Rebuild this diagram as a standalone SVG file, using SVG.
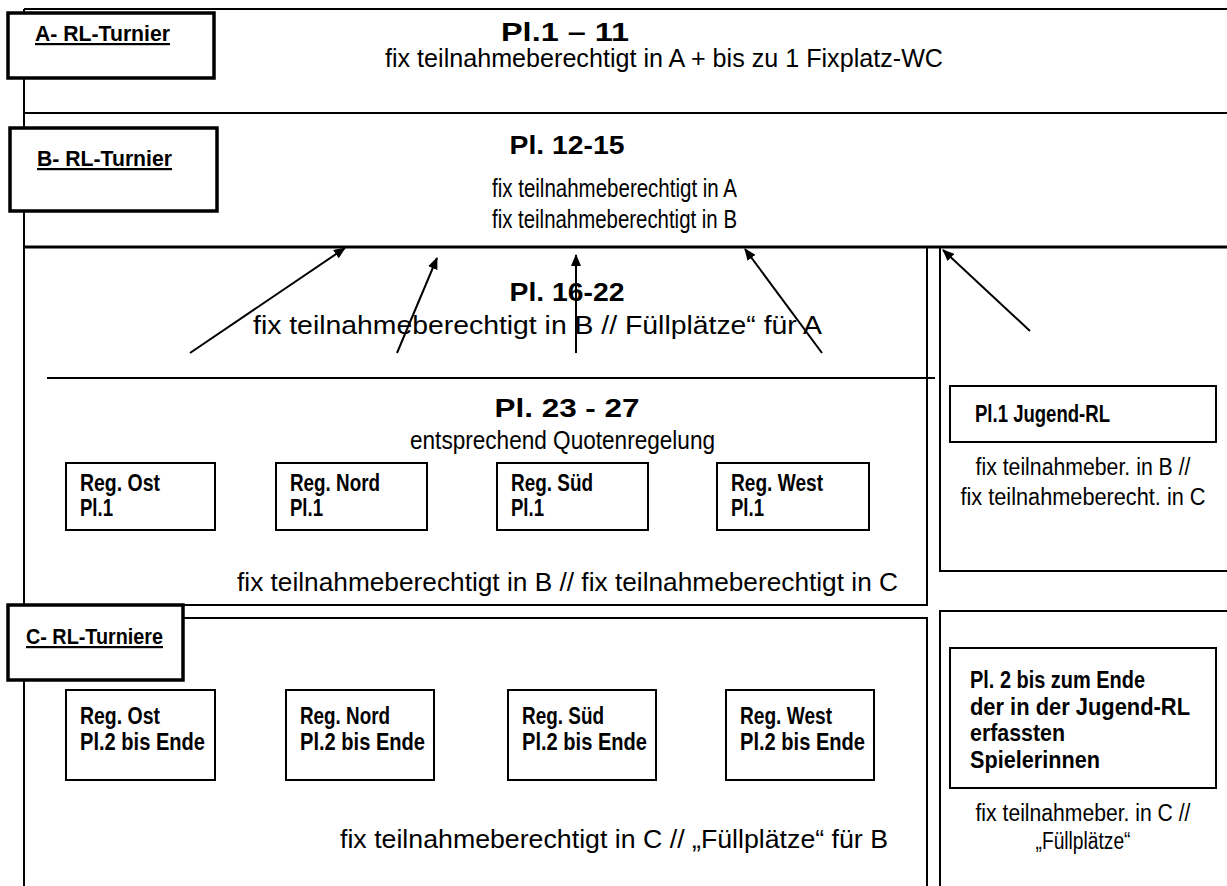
<svg xmlns="http://www.w3.org/2000/svg" width="1227" height="886" viewBox="0 0 1227 886">
<defs>
<style>
.ln{stroke:#000;stroke-width:2;fill:none}
.thk{stroke:#000;stroke-width:3;fill:none}
.lbl{fill:#fff;stroke:#000;stroke-width:3.5}
.box{fill:#fff;stroke:#000;stroke-width:2}
text{font-family:"Liberation Sans",Arial,sans-serif;fill:#000}
.t{font-size:25px}
.s{font-size:23px}
.b{font-size:23px;font-weight:bold}
.h{font-size:26px;font-weight:bold}
.u{font-size:22px;font-weight:bold;text-decoration:underline}
.arr{stroke:#000;stroke-width:2;fill:none;marker-end:url(#ah)}
</style>
<marker id="ah" markerWidth="12" markerHeight="10" refX="11" refY="5" orient="auto" markerUnits="userSpaceOnUse" viewBox="0 0 12 10">
<path d="M0,0 L12,5 L0,10 z" fill="#000"/>
</marker>
</defs>

<g id="frame">
<path class="ln" d="M24,9 H1227 M24,9 V886 M24,113 H1227"/>
<path class="thk" d="M24,247 H1227"/>
<path class="ln" d="M927,247 V605 H24 M183,618 H927 V886 M47,378 H935"/>
<path class="ln" d="M940,247 V571 H1227 M940,886 V611 H1227"/>
</g>

<g id="sectionA">
<rect class="lbl" x="8" y="13" width="206" height="65"/>
<text class="u" x="35" y="41" textLength="135" lengthAdjust="spacingAndGlyphs">A- RL-Turnier</text>
<text class="h" x="565" y="41" text-anchor="middle" textLength="128" lengthAdjust="spacingAndGlyphs">Pl.1 – 11</text>
<text class="t" x="385" y="67" textLength="558" lengthAdjust="spacingAndGlyphs">fix teilnahmeberechtigt in A + bis zu 1 Fixplatz-WC</text>
</g>

<g id="sectionB">
<rect class="lbl" x="10" y="128" width="207" height="83"/>
<text class="u" x="37" y="166" textLength="135" lengthAdjust="spacingAndGlyphs">B- RL-Turnier</text>
<text class="h" x="567" y="154" text-anchor="middle" textLength="115" lengthAdjust="spacingAndGlyphs">Pl. 12-15</text>
<text class="t" x="492" y="197" textLength="245" lengthAdjust="spacingAndGlyphs">fix teilnahmeberechtigt in A</text>
<text class="t" x="492" y="228" textLength="245" lengthAdjust="spacingAndGlyphs">fix teilnahmeberechtigt in B</text>
</g>

<g id="pl16-22">
<text class="h" x="567" y="301" text-anchor="middle" textLength="115" lengthAdjust="spacingAndGlyphs">Pl. 16-22</text>
<text class="t" x="253" y="334" textLength="569" lengthAdjust="spacingAndGlyphs">fix teilnahmeberechtigt in B // Füllplätze“ für A</text>
</g>

<g id="pl23-27">
<text class="h" x="567" y="417" text-anchor="middle" textLength="145" lengthAdjust="spacingAndGlyphs">Pl. 23 - 27</text>
<text class="t" x="410" y="449" textLength="305" lengthAdjust="spacingAndGlyphs">entsprechend Quotenregelung</text>
<text class="t" x="237" y="591" textLength="661" lengthAdjust="spacingAndGlyphs">fix teilnahmeberechtigt in B // fix teilnahmeberechtigt in C</text>
</g>

<g id="reg1-ost">
<rect class="box" x="66" y="463" width="149" height="67"/>
<text class="b" x="80" y="491" textLength="80" lengthAdjust="spacingAndGlyphs">Reg. Ost</text>
<text class="b" x="80" y="516" textLength="33" lengthAdjust="spacingAndGlyphs">Pl.1</text>
</g>
<g id="reg1-nord">
<rect class="box" x="276" y="463" width="151" height="67"/>
<text class="b" x="290" y="491" textLength="90" lengthAdjust="spacingAndGlyphs">Reg. Nord</text>
<text class="b" x="290" y="516" textLength="33" lengthAdjust="spacingAndGlyphs">Pl.1</text>
</g>
<g id="reg1-sued">
<rect class="box" x="497" y="463" width="151" height="67"/>
<text class="b" x="511" y="491" textLength="82" lengthAdjust="spacingAndGlyphs">Reg. Süd</text>
<text class="b" x="511" y="516" textLength="33" lengthAdjust="spacingAndGlyphs">Pl.1</text>
</g>
<g id="reg1-west">
<rect class="box" x="717" y="463" width="152" height="67"/>
<text class="b" x="731" y="491" textLength="92" lengthAdjust="spacingAndGlyphs">Reg. West</text>
<text class="b" x="731" y="516" textLength="33" lengthAdjust="spacingAndGlyphs">Pl.1</text>
</g>

<g id="jugend1">
<rect class="box" x="950" y="386" width="266" height="56"/>
<text class="b" x="975" y="422" textLength="135" lengthAdjust="spacingAndGlyphs">Pl.1 Jugend-RL</text>
<text class="s" x="1083" y="475" text-anchor="middle" textLength="215" lengthAdjust="spacingAndGlyphs">fix teilnahmeber. in B //</text>
<text class="s" x="1083" y="505" text-anchor="middle" textLength="245" lengthAdjust="spacingAndGlyphs">fix teilnahmeberecht. in C</text>
</g>

<g id="sectionC">
<rect class="lbl" x="8" y="605" width="175" height="75"/>
<text class="u" x="26" y="644" textLength="137" lengthAdjust="spacingAndGlyphs">C- RL-Turniere</text>
<text class="t" x="340" y="848" textLength="548" lengthAdjust="spacingAndGlyphs">fix teilnahmeberechtigt in C // „Füllplätze“ für B</text>
</g>

<g id="reg2-ost">
<rect class="box" x="66" y="690" width="149" height="90"/>
<text class="b" x="80" y="724" textLength="80" lengthAdjust="spacingAndGlyphs">Reg. Ost</text>
<text class="b" x="80" y="750" textLength="125" lengthAdjust="spacingAndGlyphs">Pl.2 bis Ende</text>
</g>
<g id="reg2-nord">
<rect class="box" x="286" y="690" width="148" height="90"/>
<text class="b" x="300" y="724" textLength="90" lengthAdjust="spacingAndGlyphs">Reg. Nord</text>
<text class="b" x="300" y="750" textLength="125" lengthAdjust="spacingAndGlyphs">Pl.2 bis Ende</text>
</g>
<g id="reg2-sued">
<rect class="box" x="508" y="690" width="148" height="90"/>
<text class="b" x="522" y="724" textLength="82" lengthAdjust="spacingAndGlyphs">Reg. Süd</text>
<text class="b" x="522" y="750" textLength="125" lengthAdjust="spacingAndGlyphs">Pl.2 bis Ende</text>
</g>
<g id="reg2-west">
<rect class="box" x="726" y="690" width="148" height="90"/>
<text class="b" x="740" y="724" textLength="92" lengthAdjust="spacingAndGlyphs">Reg. West</text>
<text class="b" x="740" y="750" textLength="125" lengthAdjust="spacingAndGlyphs">Pl.2 bis Ende</text>
</g>

<g id="jugend2">
<rect class="box" x="950" y="648" width="266" height="140"/>
<text class="b" x="970" y="688" textLength="175" lengthAdjust="spacingAndGlyphs">Pl. 2 bis zum Ende</text>
<text class="b" x="970" y="715" textLength="220" lengthAdjust="spacingAndGlyphs">der in der Jugend-RL</text>
<text class="b" x="970" y="741" textLength="95" lengthAdjust="spacingAndGlyphs">erfassten</text>
<text class="b" x="970" y="768" textLength="130" lengthAdjust="spacingAndGlyphs">Spielerinnen</text>
<text class="s" x="1083" y="821" text-anchor="middle" textLength="215" lengthAdjust="spacingAndGlyphs">fix teilnahmeber. in C //</text>
<text class="s" x="1083" y="849" text-anchor="middle" textLength="95" lengthAdjust="spacingAndGlyphs">„Füllplätze“</text>
</g>

<g id="connectors">
<line class="arr" x1="190" y1="353" x2="345" y2="248"/>
<line class="arr" x1="397" y1="353" x2="437" y2="258"/>
<line class="arr" x1="576" y1="353" x2="576" y2="255"/>
<line class="arr" x1="822" y1="353" x2="745" y2="249"/>
<line class="arr" x1="1030" y1="331" x2="943" y2="250"/>
</g>
</svg>
